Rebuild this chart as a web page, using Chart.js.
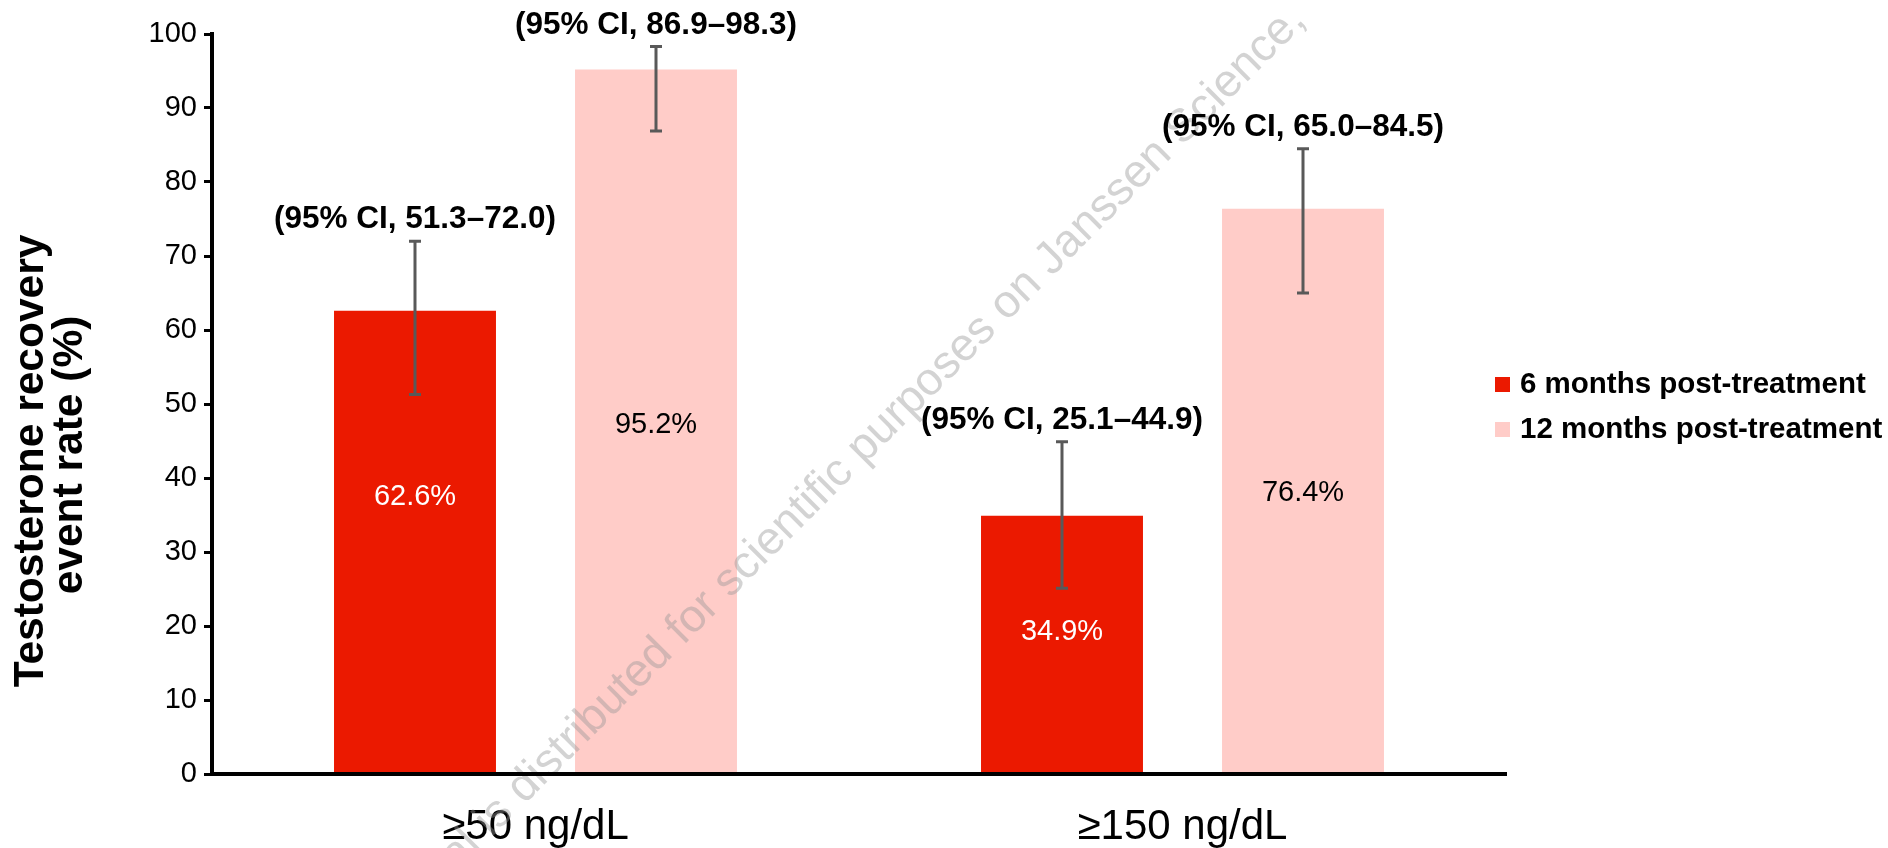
<!DOCTYPE html>
<html>

<head>
    <meta charset="utf-8" />
    <title>Testosterone recovery</title>
    <style>
        html, body { margin: 0; padding: 0; background: #fff; }
        #wrap { width: 1888px; height: 848px; position: relative; }
    </style>
</head>

<body>

    <div id="wrap">
        <canvas id="chart"></canvas>
    </div>

    <script src="https://cdn.jsdelivr.net/npm/chart.js"></script>
    <script type="text/javascript">

        // values
        var categories = ['≥50 ng/dL', '≥150 ng/dL'];
        var seriesNames = ['6 months post-treatment', '12 months post-treatment'];
        var sixMonths = [62.6, 34.9];
        var twelveMonths = [95.2, 76.4];
        var sixLow = [51.3, 25.1];
        var sixHigh = [72.0, 44.9];
        var twelveLow = [86.9, 65.0];
        var twelveHigh = [98.3, 84.5];
        var yMin = 0, yMax = 100, yStep = 10;
        var yTitle = ['Testosterone recovery', 'event rate (%)'];
        var watermark = 'This material is distributed for scientific purposes on Janssen Science,';

        var FONT = '"Liberation Sans", Arial, sans-serif';

        // error bars, labels, legend, axis title and watermark
        var extras = {
            id: 'extras',
            afterDatasetsDraw: function (chart, args, opts) {
                var ctx = chart.ctx;
                var y = chart.scales.y;

                ctx.save();
                ctx.translate(1307, 22);
                ctx.rotate(-45 * Math.PI / 180);
                ctx.font = '46px ' + FONT;
                ctx.fillStyle = 'rgba(150,150,150,0.42)';
                ctx.textAlign = 'right';
                ctx.textBaseline = 'alphabetic';
                ctx.fillText(watermark, 0, 0);
                ctx.restore();

                chart.data.datasets.forEach(function (ds, i) {
                    var meta = chart.getDatasetMeta(i);
                    meta.data.forEach(function (bar, j) {
                        var x = bar.x;
                        var yl = y.getPixelForValue(ds.ciLow[j]);
                        var yh = y.getPixelForValue(ds.ciHigh[j]);

                        ctx.save();
                        ctx.strokeStyle = '#595959';
                        ctx.lineWidth = 3;
                        ctx.beginPath();
                        ctx.moveTo(x, yl); ctx.lineTo(x, yh);
                        ctx.moveTo(x - 6, yl); ctx.lineTo(x + 6, yl);
                        ctx.moveTo(x - 6, yh); ctx.lineTo(x + 6, yh);
                        ctx.stroke();

                        ctx.textAlign = 'center';
                        ctx.textBaseline = 'middle';
                        ctx.font = '29px ' + FONT;
                        ctx.fillStyle = ds.labelColor;
                        ctx.fillText(ds.data[j].toFixed(1) + '%', x, y.getPixelForValue(opts.labelAt[i][j]));

                        ctx.textBaseline = 'alphabetic';
                        ctx.font = 'bold 31.5px ' + FONT;
                        ctx.fillStyle = '#000';
                        ctx.fillText('(95% CI, ' + ds.ciLow[j].toFixed(1) + '–' + ds.ciHigh[j].toFixed(1) + ')', x, yh - 13);
                        ctx.restore();
                    });
                });
            },
            afterDraw: function (chart) {
                var ctx = chart.ctx;
                ctx.save();
                ctx.fillStyle = '#000';
                ctx.font = 'bold 42.5px ' + FONT;
                ctx.textAlign = 'center';
                ctx.textBaseline = 'alphabetic';
                ctx.save();
                ctx.translate(43, 461);
                ctx.rotate(-Math.PI / 2);
                ctx.fillText(yTitle[0], 0, 0);
                ctx.restore();
                ctx.save();
                ctx.translate(82, 455);
                ctx.rotate(-Math.PI / 2);
                ctx.fillText(yTitle[1], 0, 0);
                ctx.restore();

                // legend
                ctx.font = 'bold 29.5px ' + FONT;
                ctx.textAlign = 'left';
                ctx.textBaseline = 'middle';
                chart.data.datasets.forEach(function (ds, i) {
                    var ly = 384 + i * 45;
                    ctx.fillStyle = ds.backgroundColor;
                    ctx.fillRect(1495, ly - 7, 15, 15);
                    ctx.fillStyle = '#000';
                    ctx.fillText(ds.label, 1520, ly + 1);
                });
                ctx.restore();
            }
        };

        var data = {
            labels: categories,
            datasets: [{
                label: seriesNames[0],
                data: sixMonths,
                ciLow: sixLow,
                ciHigh: sixHigh,
                backgroundColor: '#EB1900',
                labelColor: '#fff',
                categoryPercentage: 0.745,
                barPercentage: 0.672
            }, {
                label: seriesNames[1],
                data: twelveMonths,
                ciLow: twelveLow,
                ciHigh: twelveHigh,
                backgroundColor: '#FFCCC8',
                labelColor: '#000',
                categoryPercentage: 0.745,
                barPercentage: 0.672
            }]
        };

        var ctx = document.getElementById('chart').getContext('2d');
        var myChart = new Chart(ctx, {
            type: 'bar',
            data: data,
            plugins: [extras],
            options: {
                responsive: true,
                maintainAspectRatio: false,
                animation: false,
                events: [],
                layout: { padding: { top: 34, right: 382, bottom: 0, left: 0 } },
                plugins: {
                    legend: { display: false },
                    tooltip: { enabled: false },
                    extras: { labelAt: [[37.4, 19.2], [47.2, 38.0]] }
                },
                scales: {
                    x: {
                        grid: { display: false },
                        border: { display: true, color: '#000', width: 4, z: 1 },
                        ticks: { color: '#000', font: { family: FONT, size: 42 }, padding: 20 },
                        afterFit: function (s) { s.height = 74; }
                    },
                    y: {
                        min: yMin,
                        max: yMax,
                        ticks: { stepSize: yStep, color: '#000', font: { family: FONT, size: 29 }, padding: 7 },
                        grid: { drawOnChartArea: false, drawTicks: true, tickLength: 8, tickColor: '#000', lineWidth: 3 },
                        border: { display: true, color: '#000', width: 4, z: 1 },
                        afterFit: function (s) { s.width = 212; }
                    }
                }
            }
        });
    </script>

</body>

</html>
